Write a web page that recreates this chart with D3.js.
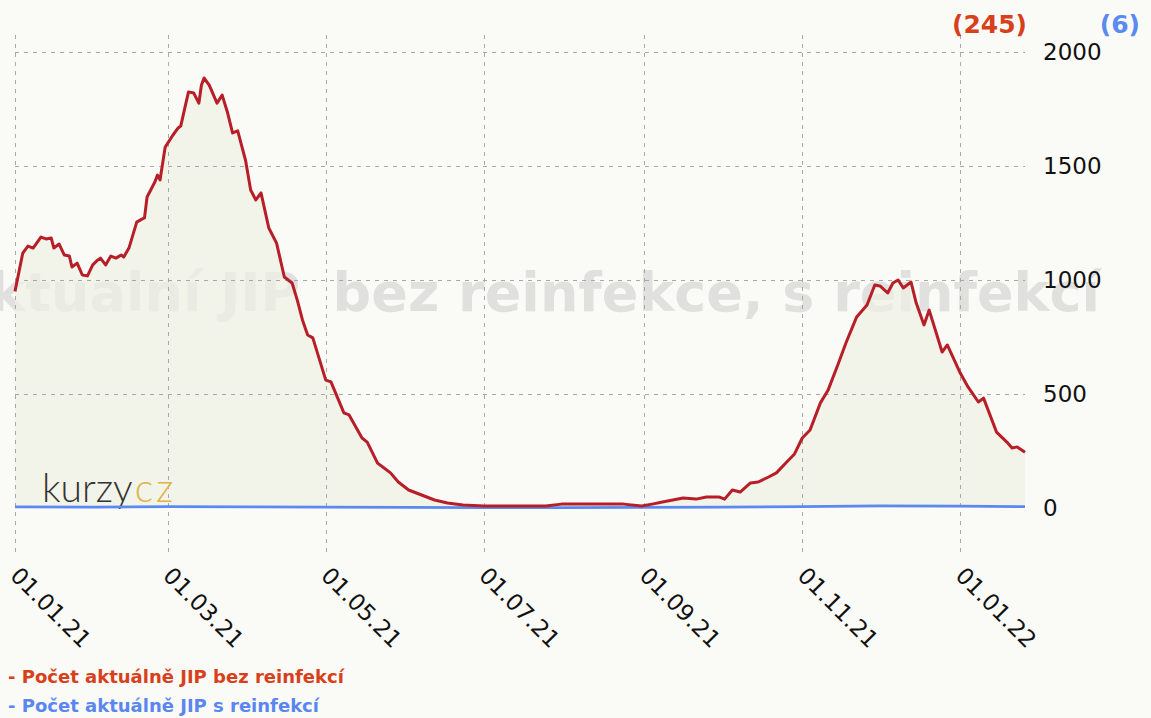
<!DOCTYPE html>
<html>
<head>
<meta charset="utf-8">
<script src="https://cdn.jsdelivr.net/npm/d3@7"></script>
<style>
  body { margin: 0; background: #fafaf6; }
  svg { display: block; font-family: 'DejaVu Sans', Verdana, sans-serif; }
</style>
</head>
<body>
<div class="canvas"></div>
<script>
// daily counts (red: bez reinfekce)
const redDates = [
  '2021-01-01','2021-01-04','2021-01-06','2021-01-08','2021-01-11','2021-01-13','2021-01-15','2021-01-16',
  '2021-01-18','2021-01-20','2021-01-22','2021-01-23','2021-01-25','2021-01-27','2021-01-29','2021-01-31',
  '2021-02-02','2021-02-03','2021-02-05','2021-02-07','2021-02-09','2021-02-11','2021-02-12','2021-02-14',
  '2021-02-17','2021-02-19','2021-02-20','2021-02-21','2021-02-24','2021-02-25','2021-02-26','2021-02-28',
  '2021-03-03','2021-03-05','2021-03-06','2021-03-08','2021-03-09','2021-03-11','2021-03-13','2021-03-14',
  '2021-03-15','2021-03-17','2021-03-20','2021-03-22','2021-03-24','2021-03-26','2021-03-28','2021-03-31',
  '2021-04-02','2021-04-04','2021-04-06','2021-04-09','2021-04-12','2021-04-15','2021-04-18','2021-04-20',
  '2021-04-22','2021-04-24','2021-04-26','2021-05-01','2021-05-03','2021-05-08','2021-05-10','2021-05-15',
  '2021-05-17','2021-05-21','2021-05-23','2021-05-26','2021-05-29','2021-06-02','2021-06-07','2021-06-12',
  '2021-06-17','2021-06-23','2021-07-01','2021-07-12','2021-07-25','2021-07-31','2021-08-14','2021-08-24',
  '2021-08-31','2021-09-04','2021-09-08','2021-09-12','2021-09-16','2021-09-21','2021-09-25','2021-09-30',
  '2021-10-02','2021-10-05','2021-10-08','2021-10-12','2021-10-15','2021-10-19','2021-10-22','2021-10-26',
  '2021-10-29','2021-11-01','2021-11-04','2021-11-08','2021-11-11','2021-11-15','2021-11-18','2021-11-22',
  '2021-11-26','2021-11-29','2021-12-01','2021-12-04','2021-12-06','2021-12-08','2021-12-10','2021-12-13',
  '2021-12-15','2021-12-18','2021-12-20','2021-12-25','2021-12-27','2022-01-01','2022-01-04','2022-01-08',
  '2022-01-10','2022-01-15','2022-01-19','2022-01-21','2022-01-23','2022-01-26'
];
const redValues = [
  950,1118,1149,1140,1188,1180,1184,1140,
  1158,1110,1105,1057,1074,1022,1018,1066,
  1088,1096,1066,1105,1096,1110,1101,1140,
  1254,1267,1272,1364,1430,1460,1439,1583,
  1636,1667,1675,1776,1825,1820,1776,1855,
  1886,1855,1776,1811,1737,1645,1654,1526,
  1395,1351,1382,1228,1162,1013,987,912,
  825,759,746,561,553,417,408,307,
  289,197,180,154,114,79,57,35,
  22,13,9,9,9,17,17,17,
  9,17,26,35,44,39,48,48,
  39,79,70,110,114,136,154,202,
  237,307,342,461,518,636,728,838,
  890,978,974,943,987,1000,965,991,
  899,803,868,684,715,592,531,465,
  482,333,289,263,268,245
];

// blue: s reinfekci
const blueDates = [
  '2021-01-01','2021-02-01','2021-03-01','2021-04-01','2021-05-01','2021-06-01','2021-07-01',
  '2021-08-01','2021-09-01','2021-10-01','2021-11-01','2021-12-01','2022-01-01','2022-01-26'
];
const blueValues = [5, 4, 6, 5, 4, 3, 2, 2, 3, 4, 6, 9, 8, 6];

const tickDates = ['2021-01-01','2021-03-01','2021-05-01','2021-07-01','2021-09-01','2021-11-01','2022-01-01'];
const yTicks = [0, 500, 1000, 1500, 2000];
const seriesNames = ['Počet aktuálně JIP bez reinfekcí', 'Počet aktuálně JIP s reinfekcí'];
const lastLabels = ['(245)', '(6)'];

const dims = { width: 1151, height: 718 };
const plot = { left: 15, right: 1025, top: 52, bottom: 508 };
const parse = d3.timeParse('%Y-%m-%d');
const fmt = d3.timeFormat('%d.%m.%y');

const red = redDates.map((d, i) => ({ date: parse(d), value: redValues[i] }));
const blue = blueDates.map((d, i) => ({ date: parse(d), value: blueValues[i] }));

const svg = d3
  .select('.canvas')
  .append('svg')
  .attr('width', dims.width)
  .attr('height', dims.height);

svg.append('rect').attr('width', dims.width).attr('height', dims.height).attr('fill', '#fafaf6');

const x = d3
  .scaleTime()
  .domain([parse(redDates[0]), parse(redDates[redDates.length - 1])])
  .range([plot.left, plot.right]);

const y = d3.scaleLinear().domain([0, 2000]).range([plot.bottom, plot.top]);

// watermark title (two pieces so the gap matches)
const mark = svg
  .append('g')
  .attr('font-size', 54)
  .attr('font-weight', 'bold')
  .attr('fill', '#e0e0df')
  .attr('text-anchor', 'end');

mark.append('text').attr('x', 300).attr('y', 311).text('Aktualní JIP');
mark.append('text').attr('x', 1100).attr('y', 311).text('bez reinfekce, s reinfekcí');

// area under red
const area = d3
  .area()
  .x((d) => x(d.date))
  .y0(y(0))
  .y1((d) => y(d.value));

svg
  .append('path')
  .datum(red)
  .attr('d', area)
  .attr('fill', '#eeefe4')
  .attr('fill-opacity', 0.7);

// grid
const grid = svg.append('g').attr('stroke', '#a8a8a8').attr('stroke-width', 1).attr('stroke-dasharray', '4,5');

grid
  .selectAll('.hgrid')
  .data(yTicks.filter((d) => d > 0))
  .enter()
  .append('line')
  .attr('x1', plot.left)
  .attr('x2', plot.right)
  .attr('y1', (d) => Math.round(y(d)) + 0.5)
  .attr('y2', (d) => Math.round(y(d)) + 0.5);

grid
  .selectAll('.vgrid')
  .data(tickDates)
  .enter()
  .append('line')
  .attr('x1', (d) => Math.round(x(parse(d))) + 0.5)
  .attr('x2', (d) => Math.round(x(parse(d))) + 0.5)
  .attr('y1', 35)
  .attr('y2', 552);

// logo
const logo = svg
  .append('text')
  .attr('x', 42)
  .attr('y', 502)
  .attr('font-family', 'Lato, sans-serif')
  .attr('font-weight', 300)
  .attr('font-size', 39);
logo.append('tspan').attr('fill', '#333').text('kurzy');
logo.append('tspan').attr('fill', '#e0b348').attr('dx', 2).attr('letter-spacing', 3).text('cz');

// lines
const line = d3
  .line()
  .x((d) => x(d.date))
  .y((d) => y(d.value));

svg
  .append('path')
  .datum(blue)
  .attr('d', line)
  .attr('fill', 'none')
  .attr('stroke', '#5a8af0')
  .attr('stroke-width', 2.8);

svg
  .append('path')
  .datum(red)
  .attr('d', line)
  .attr('fill', 'none')
  .attr('stroke', '#b71e28')
  .attr('stroke-width', 3)
  .attr('stroke-linejoin', 'round');

// y axis labels on the right
svg
  .selectAll('.ylab')
  .data(yTicks)
  .enter()
  .append('text')
  .attr('x', 1043)
  .attr('y', (d) => y(d))
  .attr('dy', '0.36em')
  .attr('font-size', 23)
  .attr('fill', '#111')
  .text((d) => d);

// x tick labels, rotated
svg
  .selectAll('.xlab')
  .data(tickDates)
  .enter()
  .append('text')
  .attr('transform', (d) => `translate(${x(parse(d)) - 6}, 577) rotate(45)`)
  .attr('font-size', 23)
  .attr('fill', '#111')
  .text((d) => fmt(parse(d)));

// last values
svg
  .append('text')
  .attr('x', 1027)
  .attr('y', 33)
  .attr('text-anchor', 'end')
  .attr('font-size', 25)
  .attr('font-weight', 'bold')
  .attr('fill', '#d8401c')
  .text(lastLabels[0]);

svg
  .append('text')
  .attr('x', 1140)
  .attr('y', 33)
  .attr('text-anchor', 'end')
  .attr('font-size', 25)
  .attr('font-weight', 'bold')
  .attr('fill', '#5a8af0')
  .text(lastLabels[1]);

// legend
const legendColors = ['#d8401c', '#5a86f0'];
svg
  .selectAll('.legend')
  .data(seriesNames)
  .enter()
  .append('text')
  .attr('x', 8)
  .attr('y', (d, i) => 683 + i * 29)
  .attr('font-size', 18)
  .attr('font-weight', 'bold')
  .attr('fill', (d, i) => legendColors[i])
  .text((d) => '- ' + d);
</script>
</body>
</html>
